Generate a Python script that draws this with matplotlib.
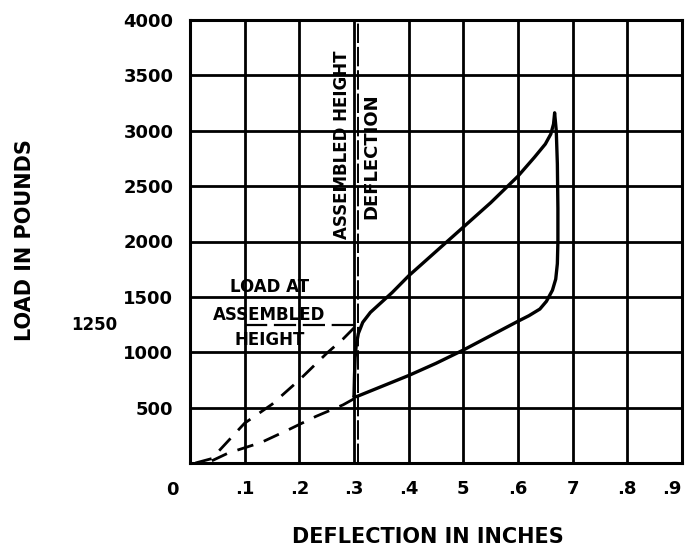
import matplotlib.pyplot as plt

# load / deflection readings for the spring test
load_x = [0.300, 0.301, 0.302, 0.304, 0.308, 0.316, 0.330, 0.350, 0.370, 0.400,
          0.450, 0.500, 0.550, 0.600, 0.630, 0.650, 0.660, 0.665, 0.667]
load_y = [600, 800, 950, 1060, 1170, 1270, 1360, 1450, 1540, 1690,
          1910, 2130, 2350, 2590, 2760, 2880, 2970, 3060, 3160]

unload_x = [0.667, 0.670, 0.672, 0.673, 0.673, 0.672, 0.669, 0.663, 0.652,
            0.640, 0.620, 0.600, 0.550, 0.500, 0.450, 0.400, 0.350, 0.305, 0.300]
unload_y = [3160, 3000, 2700, 2300, 2000, 1800, 1660, 1560, 1460,
            1390, 1330, 1280, 1150, 1020, 900, 790, 690, 600, 600]

# straight-line estimates from zero up to the assembled height
upper_dash_x = [0.01, 0.04, 0.10, 0.15, 0.20, 0.25, 0.28, 0.30]
upper_dash_y = [0, 40, 360, 530, 750, 990, 1120, 1220]
lower_dash_x = [0.04, 0.07, 0.13, 0.18, 0.23, 0.28, 0.30]
lower_dash_y = [20, 90, 185, 300, 420, 525, 580]

assembled_load = 1250
assembled_x = 0.3065

xticks = [0.1, 0.2, 0.3, 0.4, 0.5, 0.6, 0.7, 0.8, 0.9]
xtick_labels = ['.1', '.2', '.3', '.4', '5', '.6', '7', '.8', '.9']
yticks = [500, 1000, 1500, 2000, 2500, 3000, 3500, 4000]

plt.rcParams['font.family'] = 'DejaVu Sans'
plt.rcParams['font.weight'] = 'bold'

fig = plt.figure(figsize=(6.87, 5.49), dpi=100)
ax = fig.add_axes([190 / 687, 1 - 463 / 549, 492 / 687, 443 / 549])

ax.set_xlim(0, 0.9)
ax.set_ylim(0, 4000)
ax.set_xticks(xticks)
ax.set_xticklabels(xtick_labels)
ax.set_yticks(yticks)
ax.tick_params(length=0, labelsize=13, pad=12)
ax.tick_params(axis='x', pad=12)
for lab in ax.get_xticklabels() + ax.get_yticklabels():
    lab.set_fontweight('heavy')
# last label sits right at the figure edge, keep it inside
ax.get_xticklabels()[-1].set_horizontalalignment('right')

# heavy square grid
ax.grid(True, color='black', linewidth=2.0)
for s in ax.spines.values():
    s.set_linewidth(2.2)

ax.text(-0.033, -0.061, '0', transform=ax.get_xaxis_transform(), ha='center', va='center',
        fontsize=13, fontweight='heavy', clip_on=False)

# hysteresis loop
ax.plot(load_x, load_y, color='black', linewidth=2.4, solid_capstyle='round')
ax.plot(unload_x, unload_y, color='black', linewidth=2.4, solid_capstyle='round')

ax.plot(upper_dash_x, upper_dash_y, color='black', linewidth=2.0, dashes=(6, 4))
ax.plot(lower_dash_x, lower_dash_y, color='black', linewidth=2.0, dashes=(6, 4))
ax.plot([0.1, 0.3], [assembled_load, assembled_load], color='black', linewidth=1.6, dashes=(10, 3))
ax.axvline(assembled_x, color='black', linewidth=1.4, dashes=(10, 2))

ax.text(-0.175, assembled_load, '1250', ha='center', va='center', fontsize=12,
        fontweight='heavy', clip_on=False)

ax.text(0.145, 1590, 'LOAD AT', ha='center', va='center', fontsize=12, fontweight='heavy')
ax.text(0.145, 1340, 'ASSEMBLED', ha='center', va='center', fontsize=12, fontweight='heavy')
ax.text(0.145, 1110, 'HEIGHT', ha='center', va='center', fontsize=12, fontweight='heavy')

ax.text(0.278, 2870, 'ASSEMBLED HEIGHT', rotation=90, ha='center', va='center',
        fontsize=12, fontweight='heavy')
ax.text(0.332, 2770, 'DEFLECTION', rotation=90, ha='center', va='center',
        fontsize=13, fontweight='heavy')

fig.text(25 / 687, 1 - 240 / 549, 'LOAD IN POUNDS', rotation=90, ha='center', va='center',
         fontsize=15, fontweight='heavy')
fig.text(428 / 687, 1 - 537 / 549, 'DEFLECTION IN INCHES', ha='center', va='center',
         fontsize=15, fontweight='heavy')

fig.savefig('out.png', dpi=100)
